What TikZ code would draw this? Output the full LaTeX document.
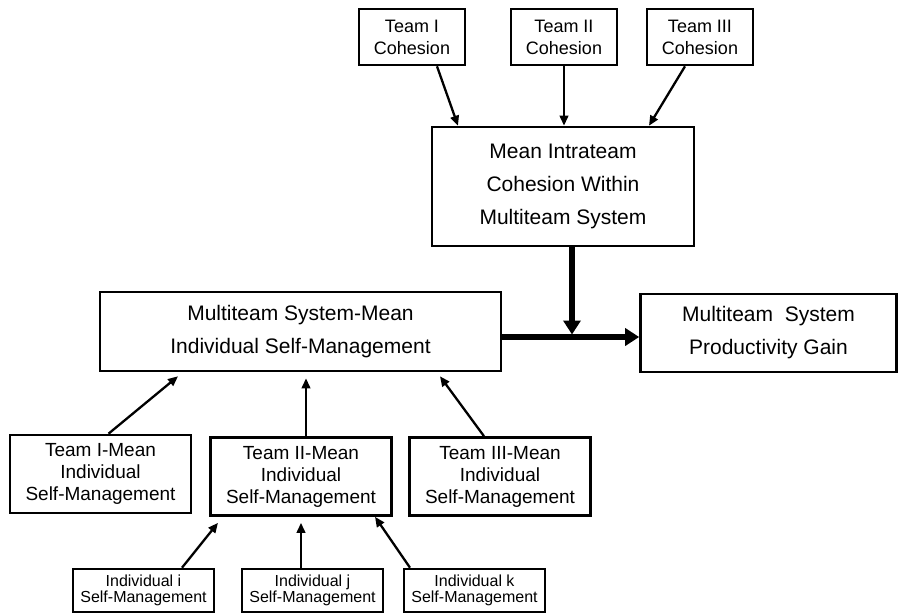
\documentclass[tikz,border=0pt]{standalone}
\usepackage{fontspec}
\setmainfont{Liberation Sans}
\usetikzlibrary{arrows.meta}
\usetikzlibrary{positioning}

\begin{document}
\begin{tikzpicture}[x=1pt, y=-1pt,
      box/.style={rectangle, draw=black, line width=2.6pt, align=center, inner sep=0pt},
      cohbox/.style={box, minimum width=106pt, minimum height=56pt, font=\fontsize{18}{22}\selectfont},
      bigbox/.style={box, font=\fontsize{21}{33}\selectfont},
      teambox/.style={box, minimum width=181pt, minimum height=78pt, font=\fontsize{19}{22}\selectfont},
      indbox/.style={box, minimum width=141pt, minimum height=43pt, font=\fontsize{16}{16.5}\selectfont},
      arrow/.style={-{Triangle[length=10pt,width=8.5pt]}, line width=2.3pt},
      bigarrow/.style={-{Triangle[length=14pt,width=17pt]}, line width=5.5pt}
      ]
      \useasboundingbox (0,0) rectangle (898,614);

      % Nodes
      \node[cohbox] (T1) at (412,37) {Team I\\Cohesion};
      \node[cohbox] (T2) at (564,37) {Team II\\Cohesion};
      \node[cohbox] (T3) at (700,37) {Team III\\Cohesion};

      \node[bigbox, minimum width=262pt, minimum height=119pt] (Mean) at (563,186.5)
        {Mean Intrateam\\Cohesion Within\\Multiteam System};

      \node[bigbox, minimum width=401pt, minimum height=79pt] (MTS) at (300.5,331.5)
        {Multiteam System-Mean\\Individual Self-Management};
      \node[bigbox, minimum width=256pt, minimum height=78pt] (Prod) at (768.5,333)
        {Multiteam\ \ System\\Productivity Gain};

      \node[teambox] (TM1) at (100.5,474) {Team I-Mean\\Individual\\Self-Management};
      \node[teambox] (TM2) at (301,476.5) {Team II-Mean\\Individual\\Self-Management};
      \node[teambox] (TM3) at (500,476.5) {Team III-Mean\\Individual\\Self-Management};

      \node[indbox] (I1) at (143.5,590.5) {Individual i\\Self-Management};
      \node[indbox] (I2) at (312.5,590.5) {Individual j\\Self-Management};
      \node[indbox] (I3) at (474.5,590.5) {Individual k\\Self-Management};

      \coordinate (joint) at (572,337);

      % Arrows
      \draw[arrow] ([xshift=25pt]T1.south) -- ([xshift=-105pt]Mean.north);
      \draw[arrow] (T2.south) -- (T2.south |- Mean.north);
      \draw[arrow] ([xshift=-15pt]T3.south) -- ([xshift=86pt]Mean.north);

      \draw[bigarrow, shorten >=2.5pt] ([xshift=9pt]Mean.south) -- (joint);
      \draw[bigarrow] (MTS.east |- joint) -- (Prod.west |- joint);

      \draw[arrow] ([xshift=8pt]TM1.north) -- ([xshift=-122.5pt,yshift=-4pt]MTS.south);
      \draw[arrow] ([xshift=5pt]TM2.north) -- ([xshift=5.5pt,yshift=-6pt]MTS.south);
      \draw[arrow] ([xshift=-16pt]TM3.north) -- ([xshift=139.5pt,yshift=-4pt]MTS.south);

      \draw[arrow] ([xshift=38.5pt]I1.north) -- ([xshift=-83pt,yshift=-6pt]TM2.south);
      \draw[arrow] ([xshift=-11.5pt]I2.north) -- ([yshift=-6pt]TM2.south);
      \draw[arrow] ([xshift=-64.5pt]I3.north) -- ([xshift=74pt]TM2.south);

    \end{tikzpicture}
\end{document}
